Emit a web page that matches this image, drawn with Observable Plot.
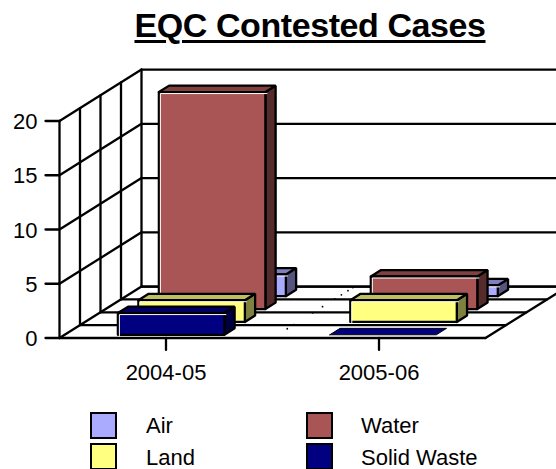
<!DOCTYPE html>
<html><head><meta charset="utf-8">
<script src="https://cdn.jsdelivr.net/npm/d3@7"></script>
<script src="https://cdn.jsdelivr.net/npm/@observablehq/plot@0.6"></script>
<style>
html,body{margin:0;padding:0;background:#fff;overflow:hidden;width:556px;height:469px;font-family:"Liberation Sans",Arial,sans-serif;color:#000}
#wrap{position:relative;width:556px;height:469px;overflow:hidden}
#title{position:absolute;left:0;width:620px;top:6px;text-align:center;font-weight:bold;font-size:34px;letter-spacing:-0.42px;line-height:38px;text-decoration:underline;text-decoration-thickness:3px;text-underline-offset:3px}
#chart{position:absolute;left:0;top:50px}
.sw{position:absolute;width:23px;height:23px;border:2px solid #000}
.lb{position:absolute;font-size:22px;line-height:24px;white-space:nowrap}
</style></head><body><div id="wrap">
<div id="title">EQC Contested Cases</div><div id="chart"></div><div id="legend"></div></div>
<script>
const categories = ["2004-05", "2005-06"];
const series = ["Solid Waste", "Land", "Water", "Air"]; // front to back
const values = {
  "Air": [2, 1],
  "Water": [20, 3],
  "Land": [2, 2],
  "Solid Waste": [2, 0]
};
const colors = {
  "Air": ["#AAAAFF", "#8080BF", "#555580"],
  "Water": ["#AA5555", "#804040", "#552B2B"],
  "Land": ["#FFFF80", "#BFBF60", "#808040"],
  "Solid Waste": ["#000080", "#000060", "#000040"]
};
const yTicks = [0, 5, 10, 15, 20];
const depthLines = [0, 0.25, 0.5, 0.75, 1];
const strayDots = [0.18, 0.26, 0.49, 0.61, 0.76, 0.84, 0.92, 0.98];
const legendOrder = [["Air", 90, 412, 146, 414], ["Water", 306, 412, 361, 414], ["Land", 90, 443, 146, 446], ["Solid Waste", 306, 443, 361, 446]];

// oblique projection: depth (0..1) shifts in category units and value units
const depthX = 0.385, depthY = 4.74;
const P = (c, t, v) => ({x: c + depthX * t, y: v + depthY * t});
const poly = (pts) => [...pts, pts[0]];

const wire = [];
const addLine = (a, b) => wire.push([a, b]);
for (const v of yTicks) {
  addLine(P(0, 0, v), P(0, 1, v));
  addLine(P(0, 1, v), P(2, 1, v));
  addLine({x: -0.0657, y: v}, P(0, 0, v));
}
for (const t of depthLines) {
  addLine(P(0, t, 0), P(0, t, 20));
  addLine(P(0, t, 0), P(2, t, 0));
}
addLine(P(2, 0, 0), P(2, 1, 0));
categories.forEach((c, i) => addLine({x: i + 0.5, y: 0}, {x: i + 0.5, y: -1.1}));

const lineMark = (pts, o) => Plot.line(pts, {x: "x", y: "y", curve: "linear", strokeLinejoin: "miter", ...o});
const marks = [];
for (const w of wire) marks.push(lineMark(w, {stroke: "#000", strokeWidth: 2.3}));
marks.push(Plot.dot(strayDots.map(t => P(1, t, 0)), {x: "x", y: "y", r: 0.9, fill: "#000"}));

const halfW = 0.25;
const slotPad = 0.0625, slotDepth = 0.125;
[...categories.keys()].forEach(i => {
  [...series].reverse().forEach(s => {
    const k = series.indexOf(s), v = values[s][i];
    const [cF, cT, cS] = colors[s];
    const mid = 0.5 + i * 0.995;
    const l = mid - halfW, r = mid + halfW;
    const t0 = k * 0.25 + slotPad, t1 = t0 + slotDepth;
    const style = {stroke: "#000", strokeWidth: 2.3};
    if (v === 0) {
      marks.push(lineMark(poly([P(l,t0,0),P(r,t0,0),P(r,t1,0),P(l,t1,0)]), {fill: cF, ...style, strokeWidth: 1}));
      return;
    }
    marks.push(lineMark(poly([P(r,t0,0),P(r,t1,0),P(r,t1,v),P(r,t0,v)]), {fill: cS, ...style}));
    marks.push(lineMark(poly([P(l,t0,v),P(r,t0,v),P(r,t1,v),P(l,t1,v)]), {fill: cT, ...style}));
    marks.push(lineMark(poly([P(l,t0,0),P(r,t0,0),P(r,t0,v),P(l,t0,v)]), {fill: cF, ...style}));
    marks.push(lineMark([P(l,t0,0),P(l,t0,v),P(r,t0,v)], {stroke: "#fff", strokeWidth: 1, dx: 1.5, dy: 1.5}));
  });
});
marks.push(Plot.text(yTicks, {x: () => 0, y: d => d, text: d => String(d), textAnchor: "end", dx: -22, dy: 1, fontSize: 22, fontFamily: "Liberation Sans"}));
marks.push(Plot.text(categories, {x: (d, i) => i + 0.5, y: () => 0, text: d => d, dy: 35, fontSize: 22, fontFamily: "Liberation Sans"}));

const plot = Plot.plot({
  width: 556, height: 419, margin: 0,
  style: {background: "transparent", overflow: "hidden"},
  x: {domain: [0, 2], range: [59, 485], axis: null},
  y: {domain: [0, 20], range: [287.5, 70.5], axis: null},
  marks
});
document.getElementById("chart").appendChild(plot);
const lg = document.getElementById("legend");
for (const [name, sx, sy, tx, ty] of legendOrder) {
  const b = document.createElement("div"); b.className = "sw";
  b.style.cssText = `left:${sx}px;top:${sy}px;background:${colors[name][0]}`;
  const t = document.createElement("div"); t.className = "lb"; t.textContent = name;
  t.style.cssText = `left:${tx}px;top:${ty}px`;
  lg.append(b, t);
}
</script></body></html>
